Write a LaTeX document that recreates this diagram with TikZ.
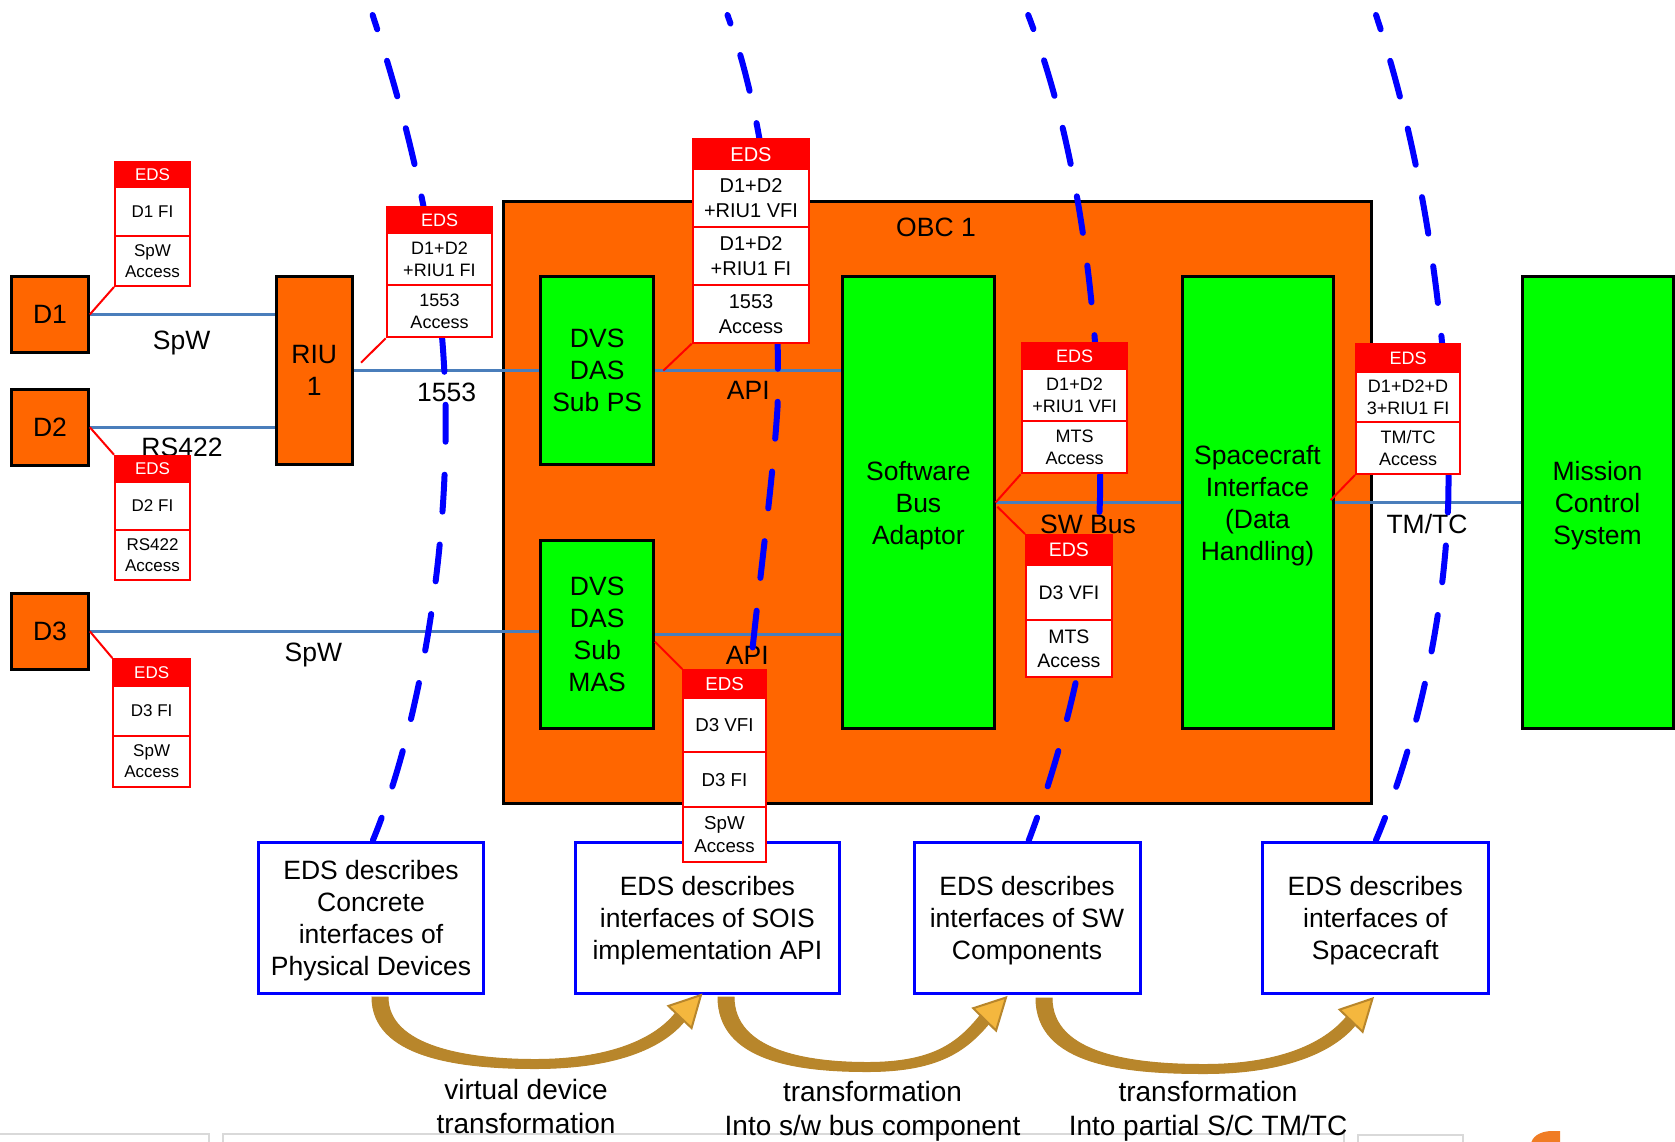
\documentclass[tikz,border=0pt]{standalone}
\usepackage{fontspec}
\setmainfont{Liberation Sans}
\usetikzlibrary{calc}

\definecolor{obcorange}{HTML}{FF6600}
\definecolor{boxgreen}{HTML}{00FF00}
\definecolor{linkblue}{HTML}{4A7EBB}
\definecolor{edsred}{HTML}{FF0000}
\definecolor{dashblue}{HTML}{0000FF}
\definecolor{golddark}{HTML}{B8862B}
\definecolor{goldlight}{HTML}{F4B73E}
\definecolor{framegray}{HTML}{D9D9D9}
\definecolor{logoorange}{HTML}{F07C24}

\newcommand\fsz[2]{\fontsize{#1}{#2}\selectfont}

\tikzset{
  device/.style={draw=black, line width=3pt, fill=obcorange, inner sep=0pt, align=center, text depth=0pt, font=\fsz{26.5}{32}},
  module/.style={draw=black, line width=3pt, fill=boxgreen, inner sep=0pt, align=center, text depth=0pt, font=\fsz{26.5}{32}},
  link/.style={draw=linkblue, line width=3pt},
  buslabel/.style={anchor=base, inner sep=0pt, font=\fsz{26.5}{32}},
  edshd/.style={draw=edsred, fill=edsred, text=white, line width=2pt, inner sep=0pt},
  edsrow/.style={draw=edsred, fill=white, line width=2pt, inner sep=0pt, align=center},
  pointer/.style={draw=edsred, line width=2pt},
  boundary/.style={draw=dashblue, line width=6pt, line cap=round},
  descbox/.style={draw=dashblue, line width=3pt, fill=white, inner sep=0pt, align=center, text depth=0pt, font=\fsz{26.5}{32}},
  goldshaft/.style={fill=golddark, draw=golddark, line width=1pt},
  goldhead/.style={fill=goldlight, draw=golddark, line width=2pt, line join=miter},
  steplabel/.style={align=center, inner sep=0pt, font=\fsz{28}{33.6}},
}

\begin{document}
\begin{tikzpicture}[x=1pt,y=-1pt]
\useasboundingbox (0,0) rectangle (1675,1141);
\clip (0,0) rectangle (1675,1141);
\fill[white] (0,0) rectangle (1675,1141);

% panel frames along the lower edge
\draw[framegray, line width=2pt] (-2,1134.3) -- (209,1134.3) -- (209,1145);
\draw[framegray, line width=2pt] (223,1145) -- (223,1134) -- (1344,1134) -- (1344,1145);
\draw[framegray, line width=2pt] (1358,1145) -- (1358,1135) -- (1463,1135) -- (1463,1145);
\fill[logoorange] (1531,1145) .. controls (1531,1137) and (1540,1131) .. (1552,1131) -- (1560,1131) -- (1560,1145) -- cycle;

% on-board computer
\node[device, minimum width=868pt, minimum height=602pt] (OBC) at (937,502) {};
\node[buslabel] (OBClbl) at (936,236) {OBC 1};

% devices and remote interface unit
\node[device, minimum width=76.6pt, minimum height=75.6pt] (D1) at (50,314.5) {D1};
\node[device, minimum width=76.6pt, minimum height=75.7pt] (D2) at (50,427.2) {D2};
\node[device, minimum width=76.6pt, minimum height=76pt] (D3) at (50,631.3) {D3};
\node[device, minimum width=76.3pt, minimum height=188.3pt] (RIU) at (314.2,370.8) {RIU\\1};

% software modules
\node[module, minimum width=113.5pt, minimum height=188pt] (PS) at (597.2,370.7) {DVS\\DAS\\Sub PS};
\node[module, minimum width=113.5pt, minimum height=187.8pt] (MAS) at (597.2,634.4) {DVS\\DAS\\Sub\\MAS};
\node[module, minimum width=151.3pt, minimum height=451.6pt] (SBA) at (918.4,502.5) {Software\\Bus\\Adaptor};
\node[module, minimum width=151pt, minimum height=451.6pt] (SI) at (1257.5,502.5) {Spacecraft\\Interface\\(Data\\Handling)};
\node[module, minimum width=151pt, minimum height=451.6pt] (MCS) at (1597.5,502.5) {Mission\\Control\\System};

% links
\draw[link] (D1.east) -- (D1.east -| RIU.west);
\draw[link] (D2.east) -- (D2.east -| RIU.west);
\draw[link] (RIU.east) -- (RIU.east -| PS.west);
\draw[link] (PS.east) -- (PS.east -| SBA.west);
\draw[link] (D3.east) -- (D3.east -| MAS.west);
\draw[link] (MAS.east) -- (MAS.east -| SBA.west);
\draw[link] (SBA.east) -- (SI.west);
\draw[link] (SI.east) -- (MCS.west);

% link labels
\node[buslabel] (lSpW1) at (181.7,349.3) {SpW};
\node[buslabel] (lRS) at (182,456.7) {RS422};
\node[buslabel] (l1553) at (446.7,401.7) {1553};
\node[buslabel] (lSpW3) at (313.3,661.7) {SpW};
\node[buslabel] (lAPI1) at (748.3,399.3) {API};
\node[buslabel] (lAPI2) at (747.3,664.3) {API};
\node[buslabel] (lSWB) at (1088,533.3) {SW Bus};
\node[buslabel] (lTMTC) at (1427,533.3) {TM/TC};

% description boxes
\node[descbox, minimum width=225pt, minimum height=151.4pt] (dA) at (371,917.7) {EDS describes\\Concrete\\interfaces of\\Physical Devices};
\node[descbox, minimum width=263.2pt, minimum height=151.4pt] (dB) at (707.4,917.7) {EDS describes\\interfaces of SOIS\\implementation API};
\node[descbox, minimum width=226pt, minimum height=151.4pt] (dC) at (1027,917.7) {EDS describes\\interfaces of SW\\Components};
\node[descbox, minimum width=225.4pt, minimum height=151.4pt] (dD) at (1375.3,917.7) {EDS describes\\interfaces of\\Spacecraft};

% abstraction boundaries
\coordinate (bA) at (372.6,15);
\coordinate (bB) at (727.5,15);
\coordinate (bC) at (1028.2,15);
\coordinate (bD) at (1376,15);
\draw[boundary, dash pattern=on 37pt off 33pt, dash phase=22pt]
  (bA) .. controls (427.3,181.6) and (448.6,320.5) .. (445.4,448.6)
       .. controls (442.2,598.2) and (411.3,747.7) .. (dA.north -| 372.8,0);
\draw[boundary, dash pattern=on 37pt off 33pt, dash phase=28pt]
  (bB) .. controls (770,135) and (779.8,277.7) .. (777.6,405.9)
       .. controls (771.2,512.7) and (742.4,694.3) .. (dB.north -| 737.1,0);
\draw[boundary, dash pattern=on 37pt off 33pt, dash phase=22pt]
  (bC) .. controls (1080,150) and (1100.2,320.5) .. (1100.2,480.7)
       .. controls (1100.2,598.2) and (1068.2,737.1) .. (dC.north -| 1028.7,0);
\draw[boundary, dash pattern=on 37pt off 33pt, dash phase=22pt]
  (bD) .. controls (1420.7,149.5) and (1448.5,320.5) .. (1448.5,480.7)
       .. controls (1448.5,608.9) and (1415.4,747.7) .. (dD.north -| 1375.8,0);

% EDS sheets: D1
\node[edshd, font=\fsz{17}{21}, minimum width=75pt, minimum height=25.6pt] (eA0) at (152.5,174.5) {EDS};
\node[edsrow, font=\fsz{17}{21}, minimum width=75pt, minimum height=48.7pt] (eA1) at (152.5,211.65) {D1 FI};
\node[edsrow, font=\fsz{17}{21}, minimum width=75pt, minimum height=50pt] (eA2) at (152.5,261) {SpW\\Access};
% D2
\node[edshd, font=\fsz{17}{21}, minimum width=75pt, minimum height=26pt] (eB0) at (152.5,468.7) {EDS};
\node[edsrow, font=\fsz{17}{21}, minimum width=75pt, minimum height=48.3pt] (eB1) at (152.5,505.85) {D2 FI};
\node[edsrow, font=\fsz{17}{21}, minimum width=75pt, minimum height=50pt] (eB2) at (152.5,555) {RS422\\Access};
% D3
\node[edshd, font=\fsz{17}{21}, minimum width=76.7pt, minimum height=26.7pt] (eC0) at (151.65,672.35) {EDS};
\node[edsrow, font=\fsz{17}{21}, minimum width=76.7pt, minimum height=50pt] (eC1) at (151.65,710.7) {D3 FI};
\node[edsrow, font=\fsz{17}{21}, minimum width=76.7pt, minimum height=51pt] (eC2) at (151.65,761.2) {SpW\\Access};
% RIU
\node[edshd, font=\fsz{18}{22}, minimum width=105.6pt, minimum height=26.6pt] (eR0) at (439.5,220) {EDS};
\node[edsrow, font=\fsz{18}{22}, minimum width=105.6pt, minimum height=51.7pt] (eR1) at (439.5,259.15) {D1+D2\\+RIU1 FI};
\node[edsrow, font=\fsz{18}{22}, minimum width=105.6pt, minimum height=52.3pt] (eR2) at (439.5,311.15) {1553\\Access};
% DVS DAS Sub PS
\node[edshd, font=\fsz{20}{24.7}, minimum width=116.6pt, minimum height=30pt] (eP0) at (751,154.3) {EDS};
\node[edsrow, font=\fsz{20}{24.7}, minimum width=116.6pt, minimum height=57.4pt] (eP1) at (751,198) {D1+D2\\+RIU1 VFI};
\node[edsrow, font=\fsz{20}{24.7}, minimum width=116.6pt, minimum height=58.3pt] (eP2) at (751,255.85) {D1+D2\\+RIU1 FI};
\node[edsrow, font=\fsz{20}{24.7}, minimum width=116.6pt, minimum height=57.7pt] (eP3) at (751,313.85) {1553\\Access};
% DVS DAS Sub MAS
\node[edshd, font=\fsz{18.7}{23}, minimum width=82.4pt, minimum height=28.3pt] (eM0) at (724.5,684.15) {EDS};
\node[edsrow, font=\fsz{18.7}{23}, minimum width=82.4pt, minimum height=54pt] (eM1) at (724.5,725.3) {D3 VFI};
\node[edsrow, font=\fsz{18.7}{23}, minimum width=82.4pt, minimum height=55pt] (eM2) at (724.5,779.8) {D3 FI};
\node[edsrow, font=\fsz{18.7}{23}, minimum width=82.4pt, minimum height=55pt] (eM3) at (724.5,834.8) {SpW\\Access};
% software bus, upper
\node[edshd, font=\fsz{18}{22}, minimum width=105.6pt, minimum height=26.6pt] (eU0) at (1074.5,356) {EDS};
\node[edsrow, font=\fsz{18}{22}, minimum width=105.6pt, minimum height=51.4pt] (eU1) at (1074.5,395) {D1+D2\\+RIU1 VFI};
\node[edsrow, font=\fsz{18}{22}, minimum width=105.6pt, minimum height=52.6pt] (eU2) at (1074.5,447) {MTS\\Access};
% software bus, lower
\node[edshd, font=\fsz{19.5}{24}, minimum width=85.7pt, minimum height=30pt] (eL0) at (1068.85,550) {EDS};
\node[edsrow, font=\fsz{19.5}{24}, minimum width=85.7pt, minimum height=55pt] (eL1) at (1068.85,592.5) {D3 VFI};
\node[edsrow, font=\fsz{19.5}{24}, minimum width=85.7pt, minimum height=56.7pt] (eL2) at (1068.85,648.35) {MTS\\Access};
% spacecraft interface
\node[edshd, font=\fsz{18}{22}, minimum width=104pt, minimum height=27.7pt] (eS0) at (1408,357.85) {EDS};
\node[edsrow, font=\fsz{18}{22}, minimum width=104pt, minimum height=50.6pt] (eS1) at (1408,397) {D1+D2+D\\3+RIU1 FI};
\node[edsrow, font=\fsz{18}{22}, minimum width=104pt, minimum height=51.7pt] (eS2) at (1408,448.15) {TM/TC\\Access};

% sheet pointers
\coordinate (pR) at (361,362.7);
\coordinate (pP) at (663.3,370.7);
\coordinate (pM) at (655,641.7);
\coordinate (pL) at (997.3,506.7);
\coordinate (pS) at (1330.7,500);
\draw[pointer] (eA2.south west) -- (D1.east);
\draw[pointer] (D2.east) -- (eB0.north west);
\draw[pointer] (D3.east) -- (eC0.north west);
\draw[pointer] (eR2.south west) -- (pR);
\draw[pointer] (eP3.south west) -- (pP);
\draw[pointer] (eM0.north west) -- (pM);
\draw[pointer] (eU2.south west) -- (SBA.east);
\draw[pointer] (pL) -- (eL0.north west);
\draw[pointer] (eS2.south west) -- (pS);

% transformation arrows: tapered bodies, then heads
\coordinate (g1b) at (680,1017);     \coordinate (g1p) at (701,995);
\coordinate (g2b) at (984.6,1019.4); \coordinate (g2p) at (1006,997.5);
\coordinate (g3b) at (1351.1,1020.7);\coordinate (g3p) at (1372.5,998.5);
\filldraw[goldshaft] (372,997) .. controls (372,1056) and (455,1068.5) .. (535,1068.5)
   .. controls (613,1068.5) and (662,1049) .. (684.6,1020.8)
   -- (675.4,1013.2) .. controls (654,1040) and (608,1059.5) .. (535,1059.5)
   .. controls (465,1059.5) and (388,1046) .. (388,997) -- cycle;
\filldraw[goldshaft] (718,997) .. controls (718,1060) and (795,1071.5) .. (867,1071.5)
   .. controls (938,1071.5) and (966,1051) .. (989.2,1023.2)
   -- (980,1015.6) .. controls (957,1044) and (932,1062.5) .. (867,1062.5)
   .. controls (805,1062.5) and (734,1050) .. (734,997) -- cycle;
\filldraw[goldshaft] (1036,998) .. controls (1036,1065) and (1125,1073.5) .. (1204,1073.5)
   .. controls (1283,1073.5) and (1333,1052.6) .. (1355.7,1024.5)
   -- (1346.5,1016.9) .. controls (1323,1045) and (1277,1064.5) .. (1204,1064.5)
   .. controls (1135,1064.5) and (1052,1055) .. (1052,998) -- cycle;
\filldraw[goldhead] (g1p) -- ($(g1b)!16pt!90:(g1p)$) -- ($(g1b)!16pt!-90:(g1p)$) -- cycle;
\filldraw[goldhead] (g2p) -- ($(g2b)!16pt!90:(g2p)$) -- ($(g2b)!16pt!-90:(g2p)$) -- cycle;
\filldraw[goldhead] (g3p) -- ($(g3b)!16pt!90:(g3p)$) -- ($(g3b)!16pt!-90:(g3p)$) -- cycle;

% transformation captions
\node[steplabel] (tA) at (526,1106.3) {virtual device\\transformation};
\node[steplabel] (tB) at (872.5,1111) {transformation\\Into s/w bus component};
\node[steplabel] (tC) at (1208,1111) {transformation\\Into partial S/C TM/TC};
\end{tikzpicture}
\end{document}
